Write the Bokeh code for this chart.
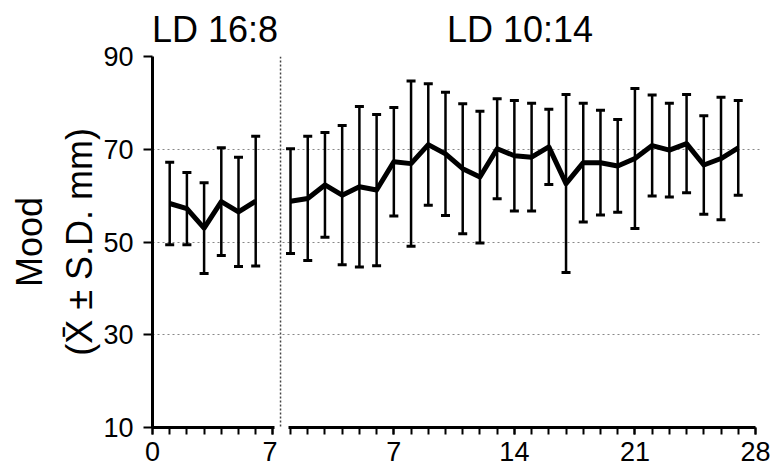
from bokeh.plotting import figure
from bokeh.models import (Range1d, FixedTicker, LinearAxis, Span, Whisker,
                          TeeHead, ColumnDataSource)
from bokeh.layouts import row
from bokeh.embed import file_html
from bokeh.resources import INLINE

# ---- data ----
days_a = [1, 2, 3, 4, 5, 6]
mood_a = [58.3, 57.2, 53.0, 58.7, 56.5, 58.8]
sd_a = [8.9, 7.8, 9.8, 11.6, 11.8, 14.0]

days_b = list(range(1, 28))
mood_b = [58.8, 59.4, 62.3, 60.1, 61.9, 61.2, 67.3, 66.9, 71.0, 69.0, 65.8, 64.0,
          70.1, 68.6, 68.3, 70.5, 62.6, 67.1, 67.1, 66.4, 68.0, 70.8, 69.8, 71.2,
          66.6, 68.0, 70.3]
sd_b = [11.3, 13.4, 11.3, 15.0, 17.3, 16.3, 11.7, 17.8, 13.1, 13.3, 14.0, 14.2,
        10.8, 11.9, 11.6, 8.1, 19.2, 12.8, 11.3, 10.0, 15.1, 10.9, 10.1, 10.6,
        10.6, 13.2, 10.2]

x_ticks_a = [0, 7]
x_ticks_b = [7, 14, 21, 28]
y_ticks = [10, 30, 50, 70, 90]
grid_levels = [30, 50, 70, 90]
panel_titles = ["LD 16:8", "LD 10:14"]
y_title = "(X\u0304 \u00b1 S.D. mm)"
y_title_outer = "Mood"

FONT = "Liberation Sans"
PX_PER_DAY = 17.2
FIG_H = 471
TOP = 54
BOTTOM = FIG_H - 427

y_range = Range1d(10, 90)


def make_source(days, mood, sd):
    return ColumnDataSource(dict(
        day=days, mood=mood,
        upper=[m + s for m, s in zip(mood, sd)],
        lower=[m - s for m, s in zip(mood, sd)],
    ))


def style_xaxis(ax, ticks, minor, bounds):
    ax.ticker = FixedTicker(ticks=ticks, minor_ticks=minor)
    ax.bounds = bounds
    ax.axis_line_width = 3
    ax.axis_line_color = "black"
    ax.major_tick_out = 7
    ax.major_tick_in = 0
    ax.minor_tick_out = 7
    ax.minor_tick_in = 0
    ax.major_tick_line_width = 2
    ax.minor_tick_line_width = 2
    ax.major_tick_line_color = "black"
    ax.minor_tick_line_color = "black"
    ax.major_label_text_font = FONT
    ax.major_label_text_font_size = "27px"
    ax.major_label_text_color = "black"
    ax.major_label_standoff = 7


def draw_series(p, src):
    head = dict(size=9, line_width=3, line_color="black")
    w = Whisker(base="day", upper="upper", lower="lower", source=src,
                dimension="height", line_width=2.5, line_color="black",
                upper_head=TeeHead(**head), lower_head=TeeHead(**head))
    p.add_layout(w)
    p.line("day", "mood", source=src, line_width=5, line_color="black",
           line_join="round")


def style_fig(p, title):
    p.outline_line_color = None
    p.xgrid.visible = False
    p.ygrid.ticker = FixedTicker(ticks=grid_levels)
    p.ygrid.grid_line_color = "#888888"
    p.ygrid.grid_line_dash = "2 3"
    p.ygrid.grid_line_width = 1
    p.title.text = title
    p.title.align = "center"
    p.title.text_font = FONT
    p.title.text_font_size = "36px"
    p.title.text_font_style = "normal"
    p.title.text_color = "black"
    p.title.standoff = 13


# ---- left panel (LD 16:8) ----
left_border = 152
left_frame_w = 125
pa = figure(width=left_border + left_frame_w, height=FIG_H,
            x_range=Range1d(0, left_frame_w / PX_PER_DAY), y_range=y_range,
            output_backend="svg", toolbar_location=None,
            min_border_left=left_border, min_border_right=0,
            min_border_top=TOP, min_border_bottom=BOTTOM)
style_fig(pa, panel_titles[0])
style_xaxis(pa.xaxis[0], x_ticks_a, list(range(0, 8)), (0, 7.1))

ya = pa.yaxis[0]
ya.ticker = FixedTicker(ticks=y_ticks)
ya.bounds = (10, 90)
ya.axis_line_width = 3
ya.axis_line_color = "black"
ya.major_tick_out = 9
ya.major_tick_in = 0
ya.major_tick_line_width = 2
ya.major_tick_line_color = "black"
ya.minor_tick_line_color = None
ya.major_label_text_font = FONT
ya.major_label_text_font_size = "27px"
ya.major_label_text_color = "black"
ya.major_label_standoff = 10
ya.axis_label = y_title
ya.axis_label_text_font = FONT
ya.axis_label_text_font_size = "36px"
ya.axis_label_text_font_style = "normal"
ya.axis_label_text_color = "black"
ya.axis_label_standoff = 0

mood_ax = LinearAxis(ticker=FixedTicker(ticks=[]), axis_label=y_title_outer,
                     axis_line_color=None, major_tick_line_color=None,
                     minor_tick_line_color=None,
                     axis_label_text_font=FONT, axis_label_text_font_size="36px",
                     axis_label_text_font_style="normal",
                     axis_label_text_color="black", axis_label_standoff=7)
pa.add_layout(mood_ax, "left")

draw_series(pa, make_source(days_a, mood_a, sd_a))

# ---- right panel (LD 10:14) ----
right_frame_w = 485
start_b = 0.244
pb = figure(width=right_frame_w + 14, height=FIG_H,
            x_range=Range1d(start_b, start_b + right_frame_w / 17.22), y_range=y_range,
            y_axis_location=None,
            output_backend="svg", toolbar_location=None,
            min_border_left=0, min_border_right=14,
            min_border_top=TOP, min_border_bottom=BOTTOM)
style_fig(pb, panel_titles[1])
style_xaxis(pb.xaxis[0], x_ticks_b, list(range(1, 29)), (0.88, 28))
pb.add_layout(Span(location=0.42, dimension="height", line_color="#444444",
                   line_dash="2 2", line_width=1.5))
draw_series(pb, make_source(days_b, mood_b, sd_b))

layout = row(pa, pb)
open("out.html", "w").write(file_html(layout, INLINE))
